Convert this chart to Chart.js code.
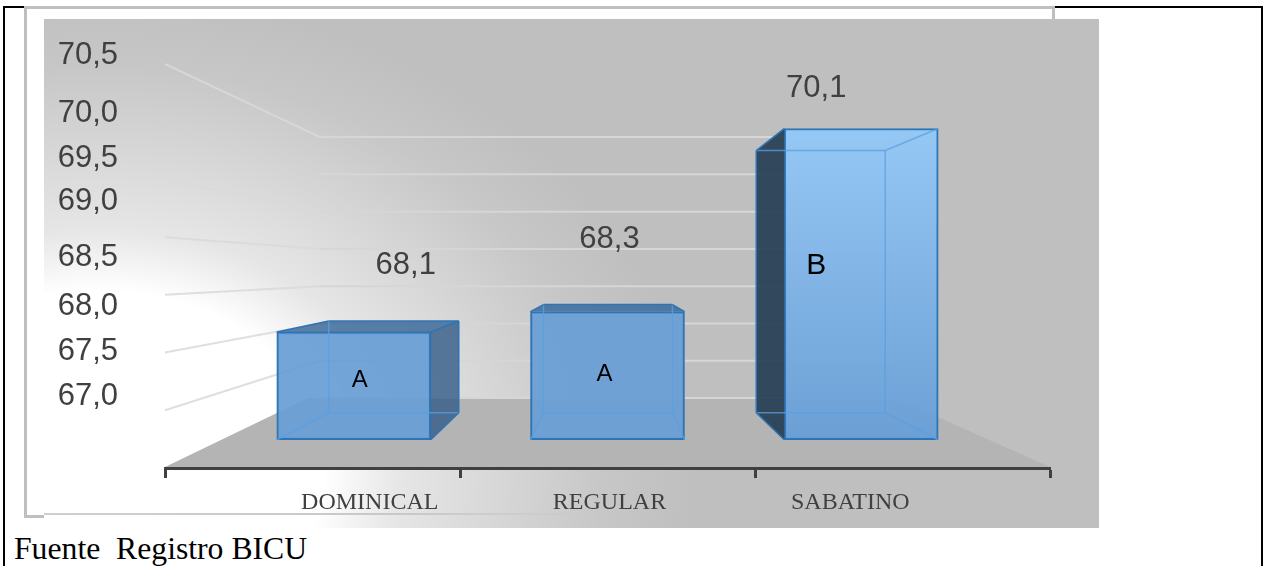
<!DOCTYPE html>
<html lang="es">
<head>
<meta charset="utf-8">
<title>Registro BICU</title>
<script src="https://cdn.jsdelivr.net/npm/chart.js@4/dist/chart.umd.min.js"></script>
<style>
    html, body { margin: 0; padding: 0; background: #fff; overflow: hidden; }
    #page { position: relative; width: 1263px; height: 566px; overflow: hidden; }
    #page div { position: absolute; }
    #border { left: 3px; top: 6px; width: 1256px; height: 580px; border: 2px solid #000; }
    #frame { left: 24px; top: 6px; width: 1025px; height: 506px; border: 3px solid #bfbfbf; background: #fff; }
    #panel { left: 44px; top: 19px; width: 1055px; height: 509px;
             background: radial-gradient(700px 560px at 56px 451px, #fff 0, #fff 32%, #e6e6e6 43%, #d6d6d6 58%, #c7c7c7 72%, #bfbfbf 85%); }
    #frameBottom { left: 44px; top: 513px; width: 620px; height: 2px; background: linear-gradient(90deg, #cfcfcf, #c8c8c8 60%, rgba(190,190,190,0)); }
    #source { left: 14px; top: 531px; font: 31.7px "Liberation Serif", serif; color: #000; white-space: pre; line-height: 36px; }
    canvas { position: absolute; left: 0; top: 0; }
</style>
</head>
<body>
<div id="page">
    <div id="border"></div>
    <div id="frame"></div>
    <div id="panel"></div>
    <div id="frameBottom"></div>
    <div id="source">Fuente  Registro BICU</div>
    <canvas id="chart" width="1263" height="566"></canvas>
</div>
<script>
// Values
const categories = ['DOMINICAL', 'REGULAR', 'SABATINO'];
const values = [68.1, 68.3, 70.1];
const valueLabels = ['68,1', '68,3', '70,1'];
const groupLetters = ['A', 'A', 'B'];
const yTickValues = [67.0, 67.5, 68.0, 68.5, 69.0, 69.5, 70.0, 70.5];
const yTickLabels = ['67,0', '67,5', '68,0', '68,5', '69,0', '69,5', '70,0', '70,5'];
const barBase = 67.04;

// The tick labels in the original were moved by hand, so they are not evenly spaced
const yLabelDrift = [0, -0.038, -0.078, -0.073, 0, -0.056, -0.095, 0];
const xLabelDrift = [0.063, 0.008, -0.043];

// Fake 3D box of each bar, offsets in pixels from its front face
const boxes = [
    { left: 52, right: 28, top: -11 },
    { left: 13, right: -12, top: -7 },
    { left: -28, right: -53, top: 22 }
];
const BOX_BOTTOM = -27;

const labelSpots = [
    { valueX: 52, valueY: -66, letterX: 6, letterY: 48, letterSize: 24 },
    { valueX: 2, valueY: -72, letterX: -3, letterY: 63, letterSize: 24 },
    { valueX: -45, valueY: -40, letterX: -45, letterY: 137, letterSize: 30 }
];

function polygon(ctx, points, fill) {
    ctx.beginPath();
    points.forEach((p, i) => i ? ctx.lineTo(p[0], p[1]) : ctx.moveTo(p[0], p[1]));
    ctx.closePath();
    ctx.fillStyle = fill;
    ctx.fill();
}

function segment(ctx, x1, y1, x2, y2, color, width) {
    ctx.beginPath();
    ctx.moveTo(x1, y1);
    ctx.lineTo(x2, y2);
    ctx.strokeStyle = color;
    ctx.lineWidth = width;
    ctx.stroke();
}

// Floor and walls, drawn from the value scale
const wallsPlugin = {
    id: 'walls',
    beforeDatasetsDraw(chart) {
        const { ctx, chartArea, scales } = chart;
        const unit = scales.y.getPixelForValue(67) - scales.y.getPixelForValue(68);
        const wallLeft = 320, wallRight = 895, wallBottom = 398;
        const front = v => chartArea.bottom - (v - 67) * unit * 1.135;
        const back = v => wallBottom - (v - 67) * unit * 0.733;

        ctx.save();
        polygon(ctx, [
            [chartArea.left, chartArea.bottom - 1],
            [wallLeft - 12, wallBottom],
            [wallRight, wallBottom],
            [chartArea.right, chartArea.bottom - 1]
        ], '#b4b4b4');

        yTickValues.forEach(v => {
            if (v > 67) {
                const faint = v === 70 ? 0.25 : 0.85;
                segment(ctx, chartArea.left, front(v), wallLeft, back(v), `rgba(217,217,217,${faint})`, 2);
            }
            segment(ctx, wallLeft, back(v), wallRight, back(v), '#d6d6d6', 2);
        });
        ctx.restore();
    }
};

// Side faces, see-through edges and the texts on the bars
const boxPlugin = {
    id: 'boxes',
    afterDatasetsDraw(chart) {
        const { ctx } = chart;
        const bars = chart.getDatasetMeta(0).data;

        ctx.save();
        bars.forEach((bar, i) => {
            const box = boxes[i];
            const l = bar.x - bar.width / 2, r = bar.x + bar.width / 2;
            const t = bar.y, b = bar.base;
            const bl = l + box.left, br = r + box.right;
            const bt = t + box.top, bb = b + BOX_BOTTOM;
            const edge = '#2e75b6', inner = 'rgba(90,160,225,0.75)';

            if (box.top < 0) {
                polygon(ctx, [[l, t], [r, t], [br, bt], [bl, bt]], 'rgba(50,100,150,0.8)');
            }
            if (br > r) {
                polygon(ctx, [[r, t], [br, bt], [br, bb], [r, b]], 'rgba(50,90,135,0.8)');
            }
            if (bl < l) {
                polygon(ctx, [[l, t], [l, b], [bl, bb], [bl, bt]], 'rgba(38,62,85,0.92)');
            }

            // edges seen through the glass
            segment(ctx, bl, bt, br, bt, box.top < 0 ? edge : inner, 1.5);
            segment(ctx, bl, bb, br, bb, inner, 1.5);
            segment(ctx, bl, bt, bl, bb, bl < l ? edge : inner, 1.5);
            segment(ctx, br, bt, br, bb, br > r ? edge : inner, 1.5);
            segment(ctx, l, t, bl, bt, box.top < 0 || bl < l ? edge : inner, 1.5);
            segment(ctx, r, t, br, bt, br > r || box.top < 0 ? edge : inner, 1.5);
            segment(ctx, l, b, bl, bb, bl < l ? edge : inner, 1.5);
            segment(ctx, r, b, br, bb, br > r ? edge : inner, 1.5);

            const spot = labelSpots[i];
            ctx.textAlign = 'center';
            ctx.textBaseline = 'middle';
            ctx.fillStyle = '#404040';
            ctx.font = '31px "Liberation Sans", sans-serif';
            ctx.fillText(valueLabels[i], bar.x + spot.valueX, t + spot.valueY);
            ctx.fillStyle = '#000';
            ctx.font = spot.letterSize + 'px "Liberation Sans", sans-serif';
            ctx.fillText(groupLetters[i], bar.x + spot.letterX, t + spot.letterY);
        });
        ctx.restore();
    }
};

new Chart(document.getElementById('chart').getContext('2d'), {
    type: 'bar',
    data: {
        datasets: [{
            data: values.map((v, i) => ({ x: i, y: v })),
            base: barBase,
            xAxisID: 'x',
            yAxisID: 'y',
            barThickness: 154,
            borderWidth: 2,
            borderSkipped: false,
            borderColor: '#2e75b6',
            backgroundColor: context => {
                if (context.dataIndex !== 2) return 'rgba(104,158,214,0.93)';
                const { top, bottom } = context.chart.chartArea;
                const g = context.chart.ctx.createLinearGradient(0, top + 99, 0, bottom - 29);
                g.addColorStop(0, 'rgba(146,200,247,0.95)');
                g.addColorStop(1, 'rgba(104,158,214,0.95)');
                return g;
            }
        }]
    },
    plugins: [wallsPlugin, boxPlugin],
    options: {
        responsive: false,
        animation: false,
        layout: { padding: { top: 30, right: 213 } },
        plugins: {
            legend: { display: false },
            tooltip: { enabled: false }
        },
        scales: {
            x: {
                type: 'linear',
                offset: false,
                min: -0.744,
                max: 2.744,
                afterFit: scale => {
                    scale.height = 98;
                    scale.paddingLeft = scale.paddingRight = 0;
                },
                // first four ticks mark the bays, last three carry the names
                afterBuildTicks: scale => {
                    const bay = (scale.max - scale.min) / 3;
                    scale.ticks = [0, 1, 2, 3].map(i => ({ value: scale.min + i * bay }))
                        .concat(categories.map((c, i) => ({ value: i + xLabelDrift[i] })));
                },
                border: { color: '#404040', width: 3 },
                grid: {
                    offset: false,
                    drawOnChartArea: false,
                    tickLength: 10,
                    tickWidth: 3,
                    tickColor: context => context.index < 4 ? '#404040' : 'transparent'
                },
                ticks: {
                    autoSkip: false,
                    maxRotation: 0,
                    padding: 10,
                    color: '#404040',
                    font: { family: '"Liberation Serif", serif', size: 24 },
                    callback: (value, index) => index < 4 ? '' : categories[index - 4]
                }
            },
            y: {
                display: false,
                min: 66.762,
                max: 71.069
            },
            yLabels: {
                type: 'linear',
                position: 'left',
                min: 66.266,
                max: 70.761,
                afterFit: scale => {
                    scale.width = 165;
                    scale.paddingTop = scale.paddingBottom = 0;
                },
                afterBuildTicks: scale => {
                    scale.ticks = yTickValues.map((v, i) => ({ value: v + yLabelDrift[i] }));
                },
                border: { display: false },
                grid: { display: false, drawTicks: false },
                ticks: {
                    autoSkip: false,
                    padding: 47,
                    color: '#404040',
                    font: { family: '"Liberation Sans", sans-serif', size: 31 },
                    callback: (value, index) => yTickLabels[index]
                }
            }
        }
    }
});
</script>
</body>
</html>
